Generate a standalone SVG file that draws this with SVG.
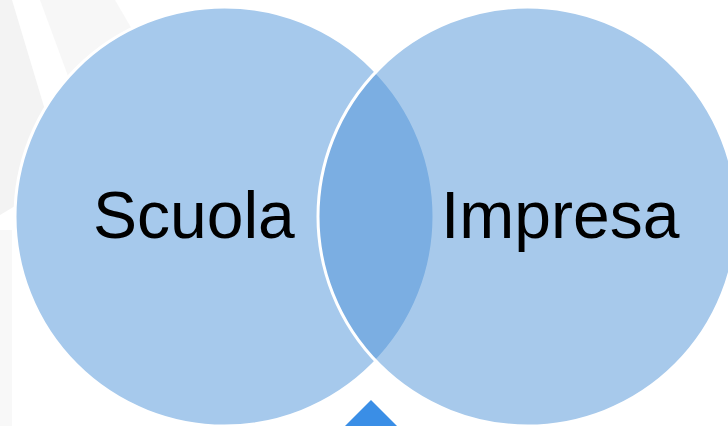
<svg xmlns="http://www.w3.org/2000/svg" width="728" height="426" viewBox="0 0 728 426">
  <style>
    .circle { stroke: #ffffff; stroke-width: 3; }
    .left { fill: #a6c9ec; }
    .right { fill: #4f93d7; fill-opacity: 0.5; }
    .label { font-family: "Liberation Sans", Arial, sans-serif; font-size: 66px; fill: #000000; }
    .bg { fill: #f3f3f3; }
  </style>
  <rect x="0" y="0" width="728" height="426" fill="#ffffff"/>
  <g id="background">
    <path class="bg" d="M0,0 L12,0 L45,110 L25,200 L0,215 Z"/>
    <path class="bg" d="M40,0 L115,0 L150,60 L110,120 L75,95 Z" opacity="0.7"/>
    <path class="bg" d="M0,230 L12,230 L12,426 L0,426 Z" opacity="0.6"/>
  </g>
  <g id="scuola">
    <circle class="circle left" cx="224.5" cy="216.5" r="209.5"/>
    <text class="label" x="93" y="238">Scuola</text>
  </g>
  <g id="impresa">
    <circle class="circle right" cx="527.5" cy="216.5" r="209.5"/>
    <text class="label" x="441" y="238">Impresa</text>
  </g>
  <g id="connectors">
    <polygon points="371,400 331,440 411,440" fill="#3a8ee6"/>
  </g>
</svg>
